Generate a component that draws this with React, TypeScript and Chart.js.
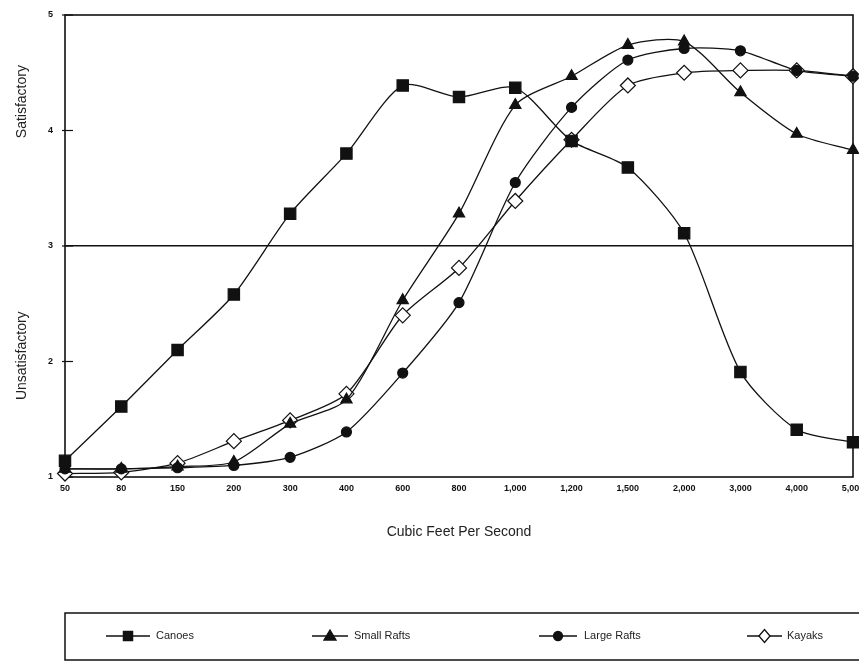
import React, { useEffect, useRef } from 'react';
import { Chart, registerables } from 'chart.js';

Chart.register(...registerables);

// ---- data ----
const categories = ['50', '80', '150', '200', '300', '400', '600', '800', '1,000', '1,200', '1,500', '2,000', '3,000', '4,000', '5,000'];
const canoes = [1.14, 1.61, 2.10, 2.58, 3.28, 3.80, 4.39, 4.29, 4.37, 3.91, 3.68, 3.11, 1.91, 1.41, 1.30];
const smallRafts = [1.07, 1.07, 1.09, 1.13, 1.46, 1.67, 2.53, 3.28, 4.22, 4.47, 4.74, 4.77, 4.33, 3.97, 3.83];
const largeRafts = [1.07, 1.07, 1.08, 1.10, 1.17, 1.39, 1.90, 2.51, 3.55, 4.20, 4.61, 4.71, 4.69, 4.52, 4.47];
const kayaks = [1.03, 1.04, 1.12, 1.31, 1.49, 1.72, 2.40, 2.81, 3.39, 3.92, 4.39, 4.50, 4.52, 4.52, 4.47];
const seriesNames = ['Canoes', 'Small Rafts', 'Large Rafts', 'Kayaks'];
const yTickValues = [1, 2, 3, 4, 5];
const dividerValue = 3;
const yTitles = [
  { text: 'Satisfactory', value: 4.25 },
  { text: 'Unsatisfactory', value: 2.05 },
];
const xTitle = 'Cubic Feet Per Second';

const FONT = '"Liberation Sans", Arial, Helvetica, sans-serif';
const INK = '#111';

type Marker = { style: string; radius: number; fill: string; legendRadius: number };
const markers: Marker[] = [
  { style: 'rect', radius: 8, fill: INK, legendRadius: 6.5 },
  { style: 'triangle', radius: 6.5, fill: INK, legendRadius: 6 },
  { style: 'circle', radius: 5, fill: INK, legendRadius: 4.5 },
  { style: 'rectRot', radius: 7.5, fill: '#fff', legendRadius: 6.5 },
];

function drawMarker(ctx: CanvasRenderingContext2D, m: Marker, x: number, y: number, r: number) {
  ctx.beginPath();
  if (m.style === 'rect') {
    const s = Math.SQRT1_2 * r;
    ctx.rect(x - s, y - s, 2 * s, 2 * s);
  } else if (m.style === 'triangle') {
    const h = r * 1.5;
    ctx.moveTo(x - r, y + h / 3 + 1);
    ctx.lineTo(x, y - (2 * h) / 3);
    ctx.lineTo(x + r, y + h / 3 + 1);
    ctx.closePath();
  } else if (m.style === 'circle') {
    ctx.arc(x, y, r, 0, Math.PI * 2);
  } else {
    ctx.moveTo(x - r * 0.85, y);
    ctx.lineTo(x, y - r);
    ctx.lineTo(x + r * 0.85, y);
    ctx.lineTo(x, y + r);
    ctx.closePath();
  }
  ctx.fillStyle = m.fill;
  ctx.fill();
  ctx.lineWidth = 1.3;
  ctx.strokeStyle = INK;
  ctx.stroke();
}

const legendSlots = [
  { x0: 106, x1: 150, text: 156 },
  { x0: 312, x1: 348, text: 354 },
  { x0: 539, x1: 577, text: 584 },
  { x0: 747, x1: 782, text: 787 },
];

const decorPlugin = {
  id: 'decor',
  beforeDatasetsDraw(chart: any) {
    const { ctx, chartArea } = chart;
    const { left, top, right, bottom } = chartArea;
    const yScale = chart.scales.y;
    ctx.save();
    ctx.strokeStyle = INK;
    ctx.lineWidth = 1.6;
    ctx.strokeRect(left, top, right - left, bottom - top);
    ctx.lineWidth = 1.2;
    yTickValues.forEach((v) => {
      const py = yScale.getPixelForValue(v);
      ctx.beginPath();
      ctx.moveTo(left - 3, py);
      ctx.lineTo(left + 8, py);
      ctx.stroke();
    });
    ctx.restore();
  },
  afterDraw(chart: any) {
    const { ctx, chartArea } = chart;
    const yScale = chart.scales.y;
    ctx.save();
    // y titles
    ctx.fillStyle = '#222';
    ctx.font = `14px ${FONT}`;
    ctx.textAlign = 'center';
    ctx.textBaseline = 'middle';
    yTitles.forEach((t) => {
      ctx.save();
      ctx.translate(22, yScale.getPixelForValue(t.value));
      ctx.rotate(-Math.PI / 2);
      ctx.fillText(t.text, 0, 0);
      ctx.restore();
    });
    // legend
    const boxTop = chartArea.bottom + 136;
    const boxLeft = chartArea.left;
    ctx.strokeStyle = INK;
    ctx.lineWidth = 1.5;
    ctx.strokeRect(boxLeft, boxTop, chart.width + 20 - boxLeft, 47);
    const cy = boxTop + 23;
    ctx.font = `11px ${FONT}`;
    ctx.textAlign = 'left';
    ctx.textBaseline = 'middle';
    chart.data.datasets.forEach((ds: any, i: number) => {
      const slot = legendSlots[i];
      const m = markers[i];
      ctx.lineWidth = 1.6;
      ctx.strokeStyle = INK;
      ctx.beginPath();
      ctx.moveTo(slot.x0, cy);
      ctx.lineTo(slot.x1, cy);
      ctx.stroke();
      drawMarker(ctx, m, (slot.x0 + slot.x1) / 2, cy, m.legendRadius);
      ctx.fillStyle = '#222';
      ctx.fillText(ds.label, slot.text, cy);
    });
    ctx.restore();
  },
};

export default function App() {
  const canvasRef = useRef<HTMLCanvasElement | null>(null);

  useEffect(() => {
    document.body.style.margin = '0';
    const canvas = canvasRef.current;
    if (!canvas) return;
    const seriesValues = [canoes, smallRafts, largeRafts, kayaks];
    const chart = new Chart(canvas, {
      type: 'line',
      data: {
        labels: categories,
        datasets: seriesNames.map((name, i) => ({
          label: name,
          data: seriesValues[i],
          borderColor: INK,
          borderWidth: 1.3,
          backgroundColor: markers[i].fill,
          pointBackgroundColor: markers[i].fill,
          pointBorderColor: INK,
          pointBorderWidth: 1.2,
          pointStyle: markers[i].style as any,
          pointRadius: markers[i].radius,
          pointHoverRadius: markers[i].radius,
          tension: 0.25,
          fill: false,
          clip: false as any,
        })),
      },
      options: {
        animation: false,
        responsive: false,
        maintainAspectRatio: false,
        layout: { autoPadding: false, padding: { left: 0, top: 15, right: 6, bottom: 116 } },
        plugins: { legend: { display: false }, tooltip: { enabled: false } },
        scales: {
          x: {
            type: 'category',
            offset: false,
            grid: { display: false, drawTicks: false },
            border: { display: false },
            ticks: {
              autoSkip: false,
              maxRotation: 0,
              minRotation: 0,
              padding: 6,
              color: INK,
              font: { family: FONT, size: 9, weight: 'bold' },
            },
            title: {
              display: true,
              text: xTitle,
              color: '#222',
              font: { family: FONT, size: 14 },
              padding: { top: 0, bottom: 4 },
            },
            afterFit: (s: any) => {
              s.height = 68;
              s.paddingLeft = 0;
              s.paddingRight = 0;
            },
          },
          y: {
            min: 1,
            max: 5,
            afterBuildTicks: (s: any) => {
              s.ticks = yTickValues.map((v) => ({ value: v }));
            },
            grid: {
              color: (c: any) => (c.tick && c.tick.value === dividerValue ? INK : 'rgba(0,0,0,0)'),
              lineWidth: 1.5,
              drawTicks: false,
            },
            border: { display: false },
            ticks: {
              padding: 12,
              color: INK,
              font: { family: FONT, size: 9, weight: 'bold' },
            },
            afterFit: (s: any) => {
              s.width = 65;
              s.paddingTop = 0;
              s.paddingBottom = 0;
            },
          },
        },
      },
      plugins: [decorPlugin],
    });
    return () => chart.destroy();
  }, []);

  return (
    <div style={{ width: 859, height: 661 }}>
      <canvas ref={canvasRef} width={859} height={661} style={{ display: 'block' }} />
    </div>
  );
}
